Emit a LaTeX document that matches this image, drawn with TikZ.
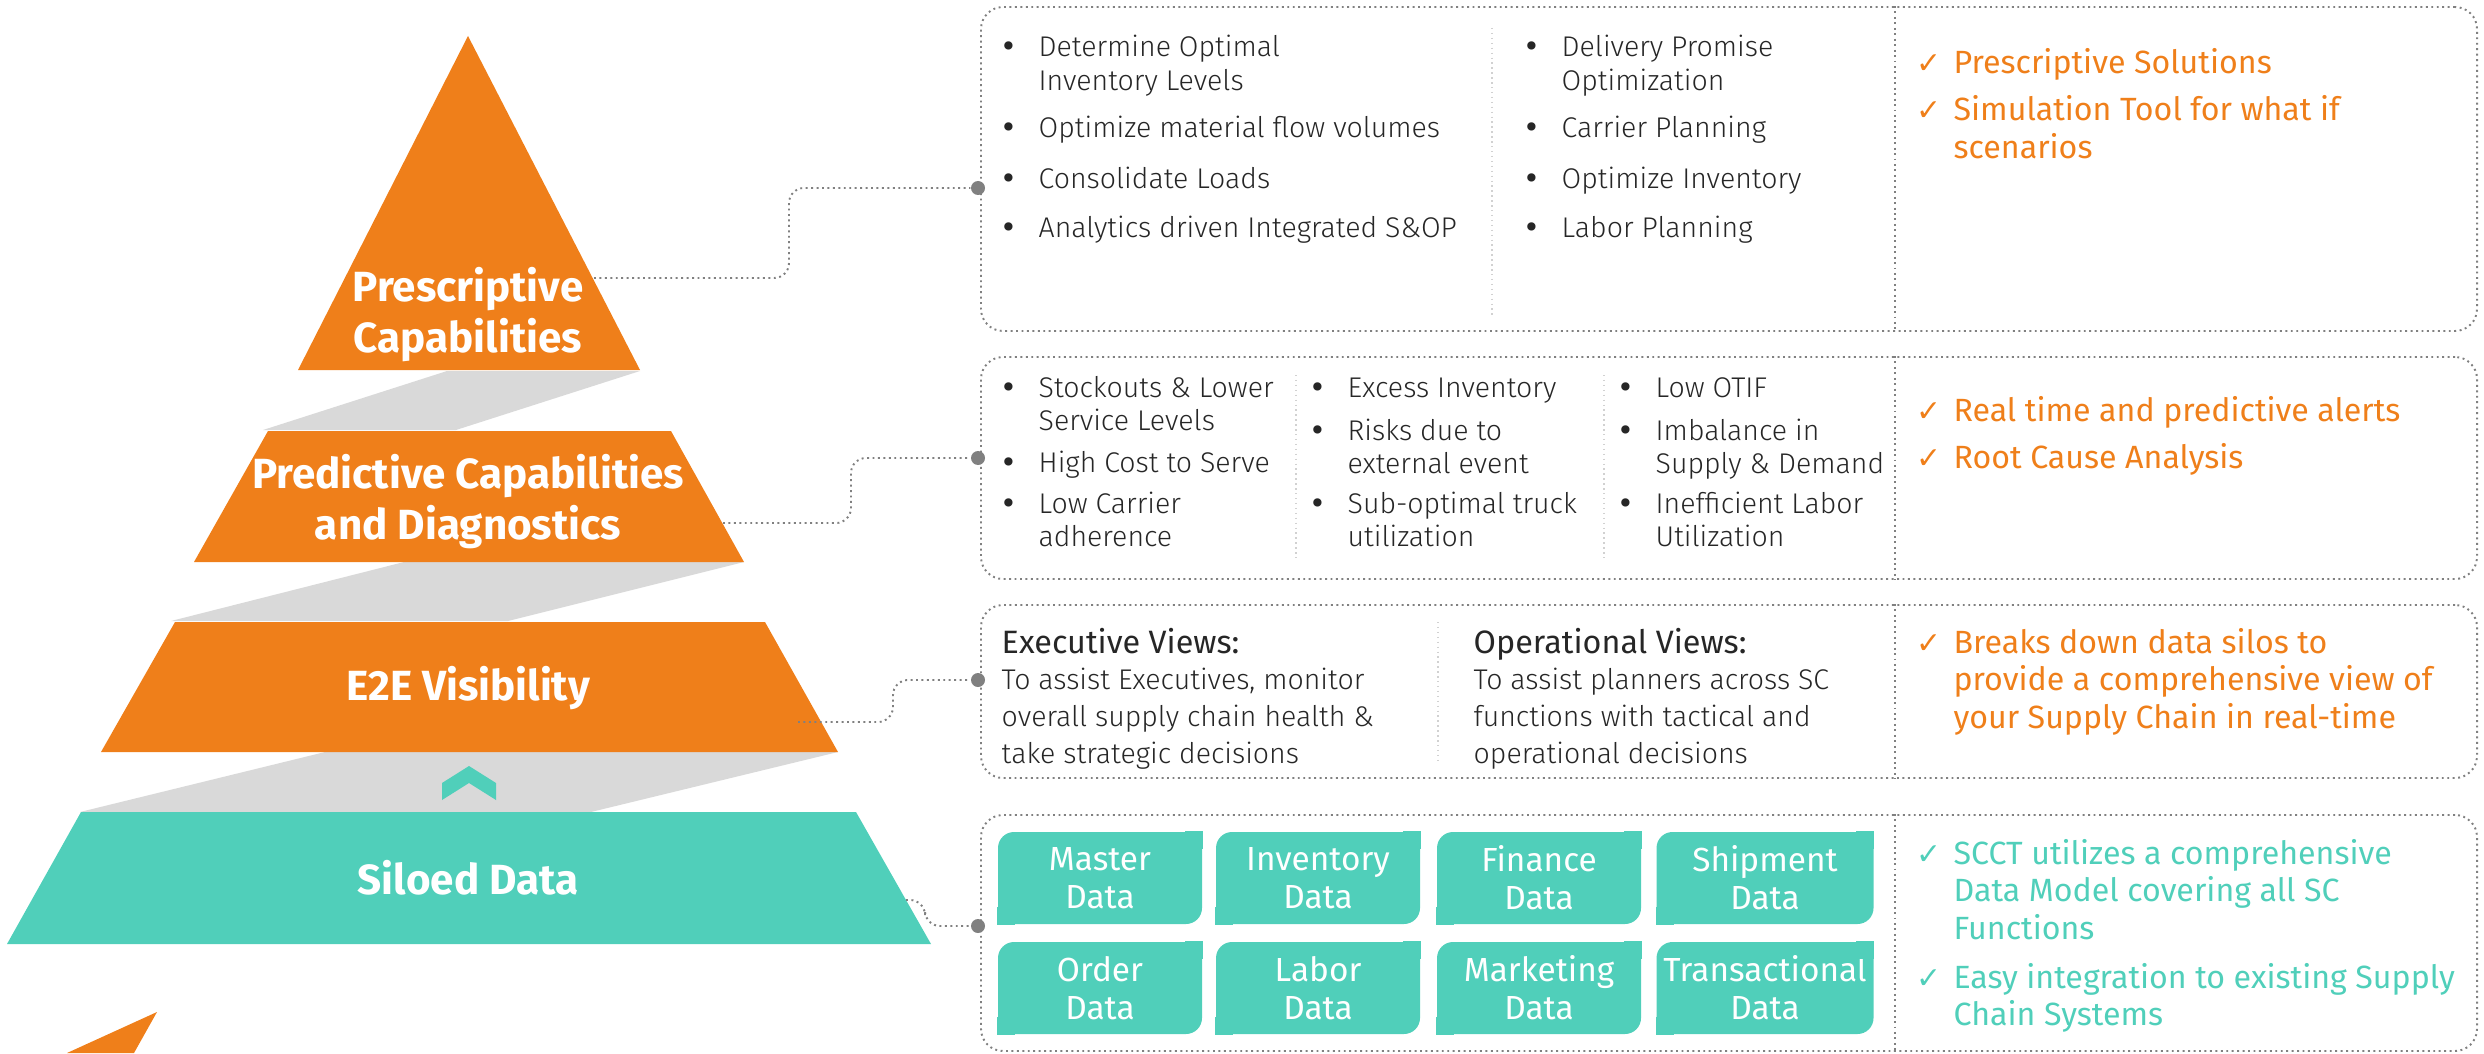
\documentclass[tikz,border=0pt]{standalone}
\usepackage{fontspec}
\setmainfont{Fira Sans}
\newfontfamily\lightfont{Fira Sans Light}
\newfontfamily\symfont{DejaVu Sans}
\usetikzlibrary{calc}
\definecolor{pyrorange}{RGB}{239,127,26}
\definecolor{siloteal}{RGB}{80,207,186}
\definecolor{bandgray}{RGB}{217,217,217}
\definecolor{dotgray}{RGB}{128,128,128}
\definecolor{inkgray}{RGB}{38,38,38}
\newcommand{\txtlines}[1]{\begin{tabular}[t]{@{}l@{}}#1\end{tabular}}
\newcommand{\bul}[1]{\makebox[10.8pt][l]{\symfont\textbullet}\txtlines{#1}}
\newcommand{\chk}[1]{\makebox[10.5pt][l]{\symfont\fontsize{8.5}{9}\selectfont ✓}\txtlines{#1}}

\begin{document}
\begin{tikzpicture}[
    x=0.1mm, y=-0.1mm,
    tier/.style={text=white, align=center, inner sep=0pt,
                 font=\bfseries\fontsize{12}{14.5}\selectfont},
    panel/.style={draw=dotgray, densely dotted, line width=0.55pt, rounded corners=2.2mm,
                  minimum width=149.6mm, inner sep=0pt},
    split/.style={draw=dotgray, densely dotted, line width=0.55pt},
    sep/.style={draw=black!18, densely dotted, line width=0.4pt},
    item/.style={anchor=base west, inner sep=0pt, text=inkgray,
                 font=\lightfont\fontsize{8.1}{9.4}\selectfont},
    head/.style={anchor=base west, inner sep=0pt, text=inkgray,
                 font=\fontsize{9.2}{11}\selectfont},
    tick/.style={anchor=base west, inner sep=0pt, text=pyrorange,
                 font=\fontsize{9.15}{10.7}\selectfont},
    data/.style={fill=siloteal, text=white, rounded corners=1.6mm, align=center,
                 minimum height=9.2mm, inner sep=0pt, font=\fontsize{9.5}{10.8}\selectfont},
    dot/.style={circle, fill=dotgray, inner sep=0pt, minimum size=1.4mm},
    link/.style={draw=dotgray, densely dotted, line width=0.55pt, rounded corners=1.5mm}
]
\useasboundingbox (0,0) rectangle (2484,1053);

% pyramid
\fill[bandgray] (447,371) -- (640,371) -- (456,430) -- (263,430) -- cycle;
\fill[bandgray] (404,562) -- (744,562) -- (508,621) -- (171,621) -- cycle;
\fill[bandgray] (325,752) -- (838,752) -- (591,812) -- (80,812) -- cycle;
\fill[pyrorange] (468,36) -- (640,370) -- (298,370) -- cycle;
\fill[pyrorange] (268,431) -- (671,431) -- (744,562) -- (194,562) -- cycle;
\fill[pyrorange] (175,622) -- (765,622) -- (838,752) -- (101,752) -- cycle;
\fill[siloteal] (81,812) -- (856,812) -- (931,944) -- (7,944) -- cycle;
\fill[siloteal] (442,783) -- (469,766) -- (496,783) -- (496,800) -- (469,783) -- (442,800) -- cycle;
\fill[pyrorange] (157,1012) -- (134,1053) -- (67,1053) -- cycle;

\node[tier] (presc) at (468,315) {Prescriptive\\Capabilities};
\node[tier] (predi) at (468,502) {Predictive Capabilities\\and Diagnostics};
\node[tier] (vis) at (468,688) {E2E Visibility};
\node[tier] (silo) at (468,878) {Siloed Data};

% panels
\node[panel, minimum height=32.4mm] (pan1) at (1729,169) {};
\node[panel, minimum height=22.2mm] (pan2) at (1729,468) {};
\node[panel, minimum height=17.3mm] (pan3) at (1729,691.5) {};
\node[panel, minimum height=23.6mm] (pan4) at (1729,933) {};
\foreach \p in {pan1,pan2,pan3,pan4}
  \draw[split] (\p.north -| 1895,0) -- (\p.south -| 1895,0);
\draw[sep] (1492,28) -- (1492,317);
\draw[sep] (1296,375) -- (1296,560);
\draw[sep] (1604,375) -- (1604,560);
\draw[sep] (1438,622) -- (1438,763);

% connectors
\coordinate (out1) at (594,278);
\coordinate (out2) at (723,523);
\coordinate (out3) at (798,722);
\coordinate (out4) at (906,900);
\node[dot] (dot1) at (978,188) {};
\node[dot] (dot2) at (978,458) {};
\node[dot] (dot3) at (978,680) {};
\node[dot] (dot4) at (978,926) {};
\draw[link] (out1) -| (789,188) -- (dot1);
\draw[link] (out2) -| (851,458) -- (dot2);
\draw[link] (out3) -| (893,680) -- (dot3);
\draw[link] (out4) -| (925,926) -- (dot4);

% prescriptive
\node[item] (pr1) at (1000,57) {\bul{Determine Optimal\\Inventory Levels}};
\node[item] (pr2) at (1000,138) {\bul{Optimize material flow volumes}};
\node[item] (pr3) at (1000,188) {\bul{Consolidate Loads}};
\node[item] (pr4) at (1000,237) {\bul{Analytics driven Integrated S\&OP}};
\node[item] (pr5) at (1523,57) {\bul{Delivery Promise\\Optimization}};
\node[item] (pr6) at (1523,138) {\bul{Carrier Planning}};
\node[item] (pr7) at (1523,188) {\bul{Optimize Inventory}};
\node[item] (pr8) at (1523,237) {\bul{Labor Planning}};
\node[tick] (prg1) at (1916,74) {\chk{Prescriptive Solutions}};
\node[tick] (prg2) at (1916,121) {\chk{Simulation Tool for what if\\scenarios}};

% predictive
\node[item] (pd1) at (1000,397) {\bul{Stockouts \& Lower\\Service Levels}};
\node[item] (pd2) at (1000,472) {\bul{High Cost to Serve}};
\node[item] (pd3) at (1000,513) {\bul{Low Carrier\\adherence}};
\node[item] (pd4) at (1309,397) {\bul{Excess Inventory}};
\node[item] (pd5) at (1309,440) {\bul{Risks due to\\external event}};
\node[item] (pd6) at (1309,513) {\bul{Sub-optimal truck\\utilization}};
\node[item] (pd7) at (1617,397) {\bul{Low OTIF}};
\node[item] (pd8) at (1617,440) {\bul{Imbalance in\\Supply \& Demand}};
\node[item] (pd9) at (1617,513) {\bul{Inefficient Labor\\Utilization}};
\node[tick] (pdg1) at (1916,421) {\chk{Real time and predictive alerts}};
\node[tick] (pdg2) at (1916,468) {\chk{Root Cause Analysis}};

% visibility
\node[head] (exech) at (1001,653) {Executive Views:};
\node[head] (operh) at (1473,653) {Operational Views:};
\node[item, font=\lightfont\fontsize{8.1}{10.6}\selectfont] (exec) at (1001,689)
     {\txtlines{To assist Executives, monitor\\overall supply chain health \&\\take strategic decisions}};
\node[item, font=\lightfont\fontsize{8.1}{10.6}\selectfont] (oper) at (1473,689)
     {\txtlines{To assist planners across SC\\functions with tactical and\\operational decisions}};
\node[tick] (visg) at (1916,653)
     {\chk{Breaks down data silos to\\provide a comprehensive view of\\your Supply Chain in real-time}};

% siloed data
\foreach \x/\w/\a/\b [count=\i] in {1100/20.4/Master/Order, 1318/20.4/Inventory/Labor,
    1539/20.4/Finance/Marketing, 1765/21.7/Shipment/Transactional} {
  \node[data, minimum width=\w mm] (dta\i) at (\x,878) {\a\\Data};
  \node[data, minimum width=\w mm] (dtb\i) at (\x,988) {\b\\Data};
  \fill[siloteal] (dta\i.north east) rectangle ++(-18,18);
  \fill[siloteal] (dta\i.south west) rectangle ++(18,-18);
  \fill[siloteal] (dtb\i.north east) rectangle ++(-18,18);
  \fill[siloteal] (dtb\i.south west) rectangle ++(18,-18);
}
\node[tick, text=siloteal] (silg1) at (1916,864)
     {\chk{SCCT utilizes a comprehensive\\Data Model covering all SC\\Functions}};
\node[tick, text=siloteal] (silg2) at (1916,988)
     {\chk{Easy integration to existing Supply\\Chain Systems}};
\end{tikzpicture}
\end{document}
